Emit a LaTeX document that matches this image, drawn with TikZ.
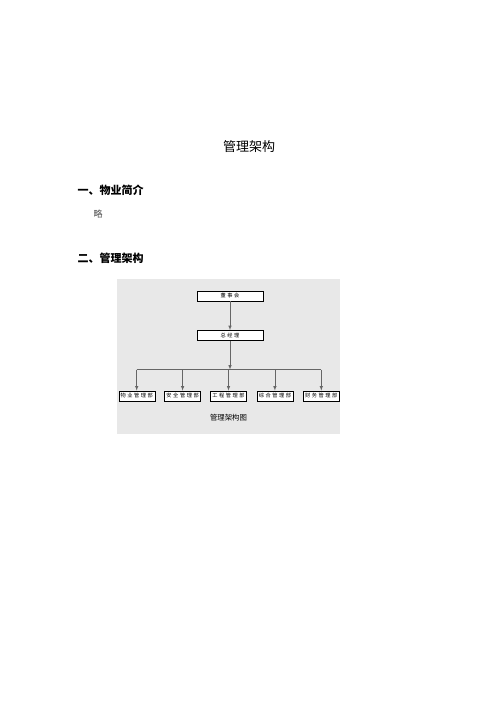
\documentclass[tikz,border=0pt]{standalone}
\usepackage{fontspec}
\setmainfont{Noto Sans CJK SC}
\newfontfamily\cjkbox[LetterSpace=30]{Noto Sans CJK SC}
\usepackage{tikz}
\usetikzlibrary{positioning}
\usetikzlibrary{shadows}

\begin{document}
\begin{tikzpicture}
  [
    x=1pt, y=-1pt,
    unit/.style={
       draw=black,
       fill=white,
       line width=0.4pt,
       inner sep=0pt,
       minimum height=10pt,
       font=\cjkbox\fontsize{5.2}{6}\selectfont,
       drop shadow={shadow xshift=0.8pt, shadow yshift=-0.8pt, fill=black!75, opacity=1}
    },
    ln/.style={
       draw=black!60,
       line width=0.6pt
    },
    ar/.style={
       ln,
       -latex
    }
  ]
  \useasboundingbox (0,0) rectangle (500,707);

  % page text
  \node (title) at (249,147) {\fontsize{13}{15}\selectfont 管理架构};
  \node (sec1) [anchor=west] at (74,190) {\fontsize{11}{13}\selectfont\bfseries 一、物业简介};
  \node (lue)  [anchor=west] at (90,214) [black!70] {\fontsize{9}{10}\selectfont 略};
  \node (sec2) [anchor=west] at (74,258) {\fontsize{11}{13}\selectfont\bfseries 二、管理架构};

  % grey panel
  \fill [black!9] (117,279) rectangle (340,434);

  % boxes
  \node (dsh) at (230,296) [unit, minimum width=66pt] {董事会};
  \node (zjl) [unit, minimum width=66pt, below=29pt of dsh] {总经理};
  \node (u3)  [unit, minimum width=36pt, below=50pt of zjl, xshift=-1.5pt] {工程管理部};
  \node (u2)  [unit, minimum width=36pt, left=9.5pt of u3]  {安全管理部};
  \node (u1)  [unit, minimum width=36pt, left=9.5pt of u2]  {物业管理部};
  \node (u4)  [unit, minimum width=36pt, right=10pt of u3]  {综合管理部};
  \node (u5)  [unit, minimum width=36pt, right=10pt of u4]  {财务管理部};

  % connectors
  \draw [ar] (dsh) -- (zjl);
  \draw [ar] (zjl.south) -- ++(0,29) coordinate (bar);
  \draw [ln] (bar -| u1) -- (bar -| u5);
  \foreach \u in {u1,u2,u3,u4,u5}
    \draw [ar] (bar -| \u) -- (\u.north);

  \node (cap) at (228.5,418) {\fontsize{7.4}{8}\selectfont 管理架构图};
\end{tikzpicture}
\end{document}
